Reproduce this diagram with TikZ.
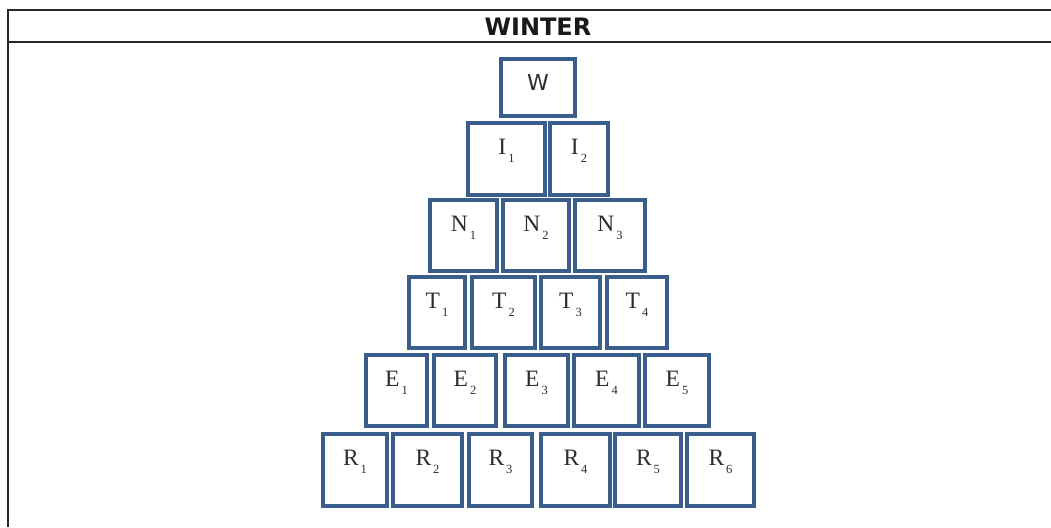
\documentclass[tikz,border=0pt]{standalone}
\usepackage{fontspec}
\setmainfont{Liberation Serif}
\newfontfamily\headfont{DejaVu Sans}
\usetikzlibrary{positioning}
\definecolor{boxblue}{RGB}{58,94,140}
\definecolor{lettergray}{RGB}{45,45,45}
\newcommand{\sub}[2]{#1\kern2pt\raisebox{-8pt}{\fontsize{12.5}{12.5}\selectfont #2}}
\tikzset{%
	block/.style    = {draw=boxblue, line width=4.8pt, rectangle, inner sep=0pt,
		text height=31pt, text depth=#1, text=lettergray,
		font=\fontsize{23.5}{25}\selectfont},
	block/.default  = 40pt,
	frame/.style    = {draw=black!85, line width=1.8pt}, % outer table
	title/.style    = {font=\headfont\bfseries\fontsize{24}{26}\selectfont, text=black!90}
}
\begin{document}
\begin{tikzpicture}[x=1pt,y=-1pt]
			\useasboundingbox (0,0) rectangle (1051,527);
			\fill[white] (0,0) rectangle (1051,527);
			
			% table frame
			\draw[frame] (1051,10) -- (8,10) -- (8,527);
			\draw[frame] (8,42) -- (1051,42);
			\node[title] (head) at (538,27) {WINTER};
			
			% top row
			\node[block=26pt, minimum width=74pt, font=\headfont\fontsize{22}{24}\selectfont] (w) at (538,87.5) {W};
			
			\node[block=41pt, minimum width=77pt] (i1) at (506.5,159) {\sub{I}{1}};
			\node[block=41pt, minimum width=58pt] (i2) at (579,159) {\sub{I}{2}};
			
			\node[block, minimum width=67pt] (n1) at (463.5,235.5) {\sub{N}{1}};
			\node[block, minimum width=66pt] (n2) at (536,235.5)   {\sub{N}{2}};
			\node[block, minimum width=70pt] (n3) at (610,235.5)   {\sub{N}{3}};
			
			\node[block, minimum width=56pt] (t1) at (437,312.5)   {\sub{T}{1}};
			\node[block, minimum width=63pt] (t2) at (503.5,312.5) {\sub{T}{2}};
			\node[block, minimum width=59pt] (t3) at (570.5,312.5) {\sub{T}{3}};
			\node[block, minimum width=60pt] (t4) at (637,312.5)   {\sub{T}{4}};
			
			\node[block, minimum width=61pt] (e1) at (396.5,390.5) {\sub{E}{1}};
			\node[block, minimum width=62pt] (e2) at (465,390.5)   {\sub{E}{2}};
			\node[block, minimum width=63pt] (e3) at (536.5,390.5) {\sub{E}{3}};
			\node[block, minimum width=65pt] (e4) at (606.5,390.5) {\sub{E}{4}};
			\node[block, minimum width=64pt] (e5) at (677,390.5)   {\sub{E}{5}};
			
			% bottom row
			\node[block=41pt, minimum width=64pt] (r1) at (355,470)   {\sub{R}{1}};
			\node[block=41pt, minimum width=69pt] (r2) at (427.5,470) {\sub{R}{2}};
			\node[block=41pt, minimum width=63pt] (r3) at (500.5,470) {\sub{R}{3}};
			\node[block=41pt, minimum width=69pt] (r4) at (575.5,470) {\sub{R}{4}};
			\node[block=41pt, minimum width=66pt] (r5) at (648,470)   {\sub{R}{5}};
			\node[block=41pt, minimum width=67pt] (r6) at (720.5,470) {\sub{R}{6}};
		\end{tikzpicture}
\end{document}
